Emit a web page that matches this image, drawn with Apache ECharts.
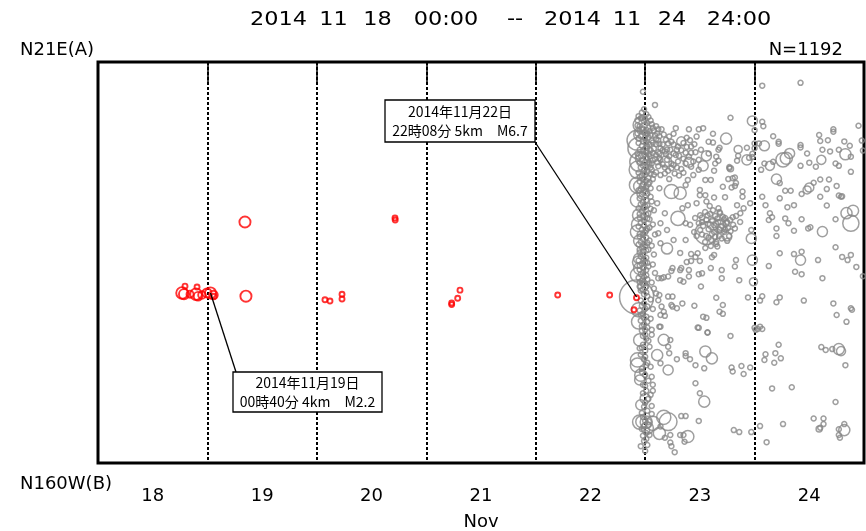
<!DOCTYPE html>
<html>
<head>
<meta charset="utf-8">
<script src="https://cdn.jsdelivr.net/npm/echarts@6/dist/echarts.min.js"></script>
<style>
html, body { margin: 0; padding: 0; background: #fff; }
#chart { width: 866px; height: 531px; }
</style>
</head>
<body>
<div id="chart"></div>
<script>
// Space-time plot along the A-B profile, 2014-11-18 00:00 to 2014-11-24 24:00.
// Each event: [time in days of November, distance from end A (0-100), magnitude]

const dayLabels = ['18', '19', '20', '21', '22', '23', '24'];
const monthLabel = 'Nov';
const titleWords = ['2014', '11', '18', '00:00', '--', '2014', '11', '24', '24:00'];
const endA = 'N21E(A)';
const endB = 'N160W(B)';
const totalCount = 1192;

// Events before the M6.7 main shock (red)
const preEvents = [
  [18.768, 57.6, 2.3], [18.786, 57.9, 2.0], [18.795, 55.9, 0.8], [18.841, 57.9, 1.4],
  [18.896, 57.9, 2.3], [18.914, 58.4, 1.7], [18.905, 56.1, 0.8], [18.950, 58.1, 1.5],
  [18.996, 57.6, 1.8], [19.028, 57.6, 2.2], [19.055, 58.1, 1.7], [19.060, 58.4, 0.8],
  [19.343, 39.9, 2.2], [19.352, 58.4, 2.2],
  [20.714, 38.9, 0.8], [20.716, 39.4, 0.8],
  [20.074, 59.3, 0.8], [20.120, 59.6, 0.8], [20.230, 57.9, 0.8], [20.230, 59.1, 0.8],
  [21.232, 60.1, 0.8], [21.232, 60.5, 0.8], [21.287, 58.9, 0.8], [21.308, 56.9, 0.8],
  [22.201, 58.1, 0.8], [22.676, 58.1, 0.8], [22.921, 58.8, 0.8], [22.898, 61.8, 0.8]
];

// The two annotated events
const mainShock = [22.922, 58.6, 6.7];
const noteShock = [19.028, 57.6, 2.2];

// Main shock and the events after it (gray)
const postEvents = [
  mainShock,
  // upper band
  [22.98, 7.4, 1.0], [23.09, 10.7, 1.0], [24.07, 5.9, 1.0], [24.42, 5.2, 1.0], [23.78, 13.9, 1.0],
  [23.98, 14.7, 2.0], [24.07, 14.9, 1.0], [24.08, 16.0, 1.0], [23.12, 16.8, 1.0], [23.28, 16.5, 1.0],
  [23.40, 16.8, 1.0], [23.49, 16.8, 1.0], [23.53, 16.5, 1.0], [23.62, 17.9, 1.0], [23.74, 19.1, 2.2],
  [23.85, 21.8, 1.6], [23.93, 21.4, 1.0], [24.00, 17.0, 1.0], [24.09, 20.9, 2.0], [24.04, 20.3, 1.0],
  [24.17, 18.5, 1.0], [24.22, 19.9, 1.0], [24.22, 20.4, 1.0], [24.32, 22.8, 2.0], [24.29, 24.0, 2.4],
  [24.26, 24.4, 2.8], [24.42, 20.7, 1.0], [24.42, 21.3, 1.0], [24.48, 22.8, 1.0], [24.59, 18.2, 1.0],
  [24.60, 19.7, 1.0], [24.67, 19.5, 1.0], [24.72, 16.8, 1.0], [24.72, 17.4, 1.0], [24.82, 19.8, 1.0],
  [24.87, 20.9, 1.0], [24.95, 15.9, 1.0], [24.98, 19.6, 1.0], [24.99, 22.1, 1.0], [24.62, 21.9, 1.0],
  [24.69, 22.3, 1.0], [24.77, 21.9, 1.0], [24.83, 23.0, 2.2], [24.88, 23.6, 1.0], [24.61, 24.4, 1.8],
  [24.50, 25.1, 1.0], [24.42, 25.9, 1.0], [24.56, 26.1, 1.0], [24.74, 25.3, 1.0], [24.77, 25.9, 1.0],
  [24.88, 27.4, 1.0], [24.20, 29.2, 2.0], [24.50, 31.3, 1.8], [24.54, 30.1, 1.0], [24.60, 29.3, 1.0],
  [24.68, 29.3, 1.0], [24.28, 32.1, 1.0], [24.33, 32.1, 1.0], [24.66, 31.7, 1.0], [24.75, 30.9, 1.0],
  [24.77, 33.3, 1.0], [24.80, 33.5, 1.0], [24.60, 33.6, 1.0], [24.23, 30.2, 1.0], [24.43, 32.9, 1.0],
  [24.07, 33.6, 1.0], [24.14, 25.9, 1.8], [24.17, 24.9, 1.0], [24.06, 26.9, 1.0], [24.09, 25.3, 1.0],
  [23.98, 22.9, 1.0], [23.98, 23.7, 1.0], [23.93, 24.4, 2.0], [23.95, 23.9, 1.0], [24.00, 21.5, 1.0],
  [24.00, 20.3, 1.0], [23.84, 24.6, 1.0], [23.85, 23.4, 1.0], [23.77, 26.5, 1.0], [23.77, 26.2, 1.0],
  [23.78, 26.6, 1.2], [23.80, 29.0, 1.0], [23.82, 28.8, 1.0], [23.76, 29.2, 1.0], [23.82, 30.9, 1.0],
  [23.79, 31.3, 1.0], [23.83, 30.2, 1.0], [23.89, 32.3, 1.0], [23.89, 33.6, 1.0], [23.71, 31.1, 1.0],
  [23.67, 24.6, 1.0], [23.65, 23.6, 1.0], [23.64, 25.3, 1.0], [23.63, 27.1, 1.0], [23.56, 23.4, 2.0],
  [23.53, 25.9, 2.0], [23.58, 22.8, 1.0], [23.51, 21.9, 1.0], [23.49, 24.4, 1.0], [23.49, 26.9, 1.0],
  [23.58, 19.9, 1.0], [23.62, 20.1, 1.0], [23.67, 21.9, 1.0], [23.68, 21.4, 1.0], [23.50, 31.9, 1.0],
  [23.50, 33.2, 1.0], [23.55, 33.2, 1.0], [23.63, 33.8, 1.0], [23.73, 33.7, 1.0], [23.55, 29.4, 1.0],
  [23.60, 29.4, 1.0], [23.24, 32.3, 2.8], [23.32, 32.7, 2.4], [23.41, 19.5, 1.0], [23.42, 21.1, 1.0],
  [23.42, 22.6, 1.0], [23.37, 22.6, 1.0], [23.35, 24.1, 1.0], [23.30, 21.1, 1.0], [23.29, 21.9, 1.0],
  [23.28, 23.2, 1.0], [23.21, 20.3, 1.0], [23.23, 21.9, 1.0], [23.20, 24.4, 1.0], [23.18, 26.3, 1.0],
  [23.24, 26.5, 1.0], [23.29, 26.3, 1.0], [23.33, 26.7, 1.0], [23.37, 25.3, 1.0], [23.13, 18.5, 1.0],
  [23.12, 19.5, 1.0], [23.14, 21.5, 1.0], [23.14, 28.2, 1.0], [23.18, 27.8, 1.0], [23.13, 31.5, 1.0],
  [23.27, 27.8, 1.0], [23.22, 29.2, 1.0], [23.39, 29.4, 1.0], [23.37, 30.7, 1.0], [23.14, 24.4, 1.0],
  [23.24, 25.3, 1.0], [23.16, 22.0, 1.0], [23.18, 22.3, 1.0], [23.20, 21.8, 1.0],
  [23.10, 16.0, 1.0], [23.15, 16.8, 1.0], [23.17, 18.1, 1.0], [23.19, 19.4, 1.0], [23.22, 18.6, 1.0],
  [23.24, 19.9, 1.0], [23.26, 20.6, 1.0], [23.16, 20.6, 1.0], [23.19, 23.0, 1.0], [23.22, 23.5, 1.0],
  [23.26, 22.8, 1.0], [23.31, 23.4, 1.0], [23.33, 22.0, 1.0], [23.35, 20.2, 1.0], [23.38, 21.2, 1.0],
  [23.40, 23.6, 1.0], [23.44, 24.8, 1.0], [23.46, 22.5, 1.0], [23.45, 20.5, 1.0], [23.30, 24.8, 1.0],
  [23.26, 25.7, 1.0], [23.21, 27.1, 1.0], [23.16, 25.5, 1.0], [23.31, 28.3, 1.0], [23.35, 27.6, 1.0],
  [23.42, 26.1, 1.0], [23.44, 28.2, 1.0], [23.47, 18.6, 1.0], [23.38, 18.9, 1.0], [23.26, 17.9, 1.0],
  [23.40, 25.0, 2.0], [23.19, 24.8, 2.2], [23.33, 19.8, 1.8],
  // dense column right after the main shock, upper part
  [22.935, 26.9, 3.5], [22.98, 32.7, 2.4], [22.94, 21.5, 4.2], [22.96, 18.0, 2.8], [22.97, 24.0, 2.6],
  [23.00, 16.5, 2.2], [22.95, 31.0, 2.4], [22.955, 15.7, 2.8], [22.925, 19.5, 3.9], [22.95, 24.9, 3.9],
  [22.93, 30.7, 3.2],
  [22.97, 12.6, 1.0], [22.99, 11.8, 1.0], [23.01, 13.0, 1.0],
  [22.93, 14.5, 1.0], [22.96, 14.0, 1.0], [22.99, 14.8, 1.0], [23.02, 15.2, 1.0], [23.05, 14.6, 1.0],
  [22.95, 16.0, 1.0], [22.98, 16.6, 1.0], [23.01, 16.9, 1.0], [23.04, 17.3, 1.0], [23.07, 16.4, 1.0],
  [22.93, 17.8, 1.0], [22.96, 18.5, 1.0], [23.00, 19.0, 1.0], [23.03, 18.8, 1.0], [23.06, 19.6, 1.0],
  [23.09, 18.3, 1.0], [22.94, 20.2, 1.0], [22.97, 20.9, 1.0], [23.00, 21.5, 1.0], [23.02, 21.0, 1.0],
  [23.05, 22.0, 1.0], [23.08, 21.6, 1.0], [23.10, 20.5, 1.0], [22.93, 22.8, 1.0], [22.96, 23.4, 1.0],
  [22.99, 23.0, 1.0], [23.02, 24.0, 1.0], [23.04, 23.5, 1.0], [23.07, 24.5, 1.0], [22.95, 25.2, 1.0],
  [22.98, 25.8, 1.0], [23.01, 26.2, 1.0], [23.04, 25.5, 1.0], [23.06, 26.9, 1.0], [22.94, 27.6, 1.0],
  [22.97, 28.3, 1.0], [23.00, 28.0, 1.0], [23.03, 29.0, 1.0], [23.05, 27.8, 1.0], [22.95, 29.8, 1.0],
  [22.98, 30.5, 1.0], [23.01, 31.2, 1.0], [23.03, 30.4, 1.0], [22.94, 32.0, 1.0], [22.97, 33.0, 1.0],
  [23.00, 32.5, 1.0], [23.12, 22.5, 1.0], [23.11, 25.0, 1.0], [23.10, 27.5, 1.0], [23.13, 24.0, 1.0],
  [22.94, 13.5, 1.0], [22.97, 13.9, 1.0], [23.00, 14.2, 1.0], [23.03, 13.7, 1.0], [23.06, 15.5, 1.0],
  [22.93, 15.8, 1.0], [22.95, 17.2, 1.0], [22.99, 17.6, 1.0], [23.02, 17.9, 1.0], [23.05, 18.2, 1.0],
  [23.08, 17.1, 1.0], [23.11, 17.8, 1.0], [22.94, 19.0, 1.0], [22.98, 19.8, 1.0], [23.01, 20.0, 1.0],
  [23.04, 20.6, 1.0], [23.07, 20.1, 1.0], [23.10, 19.2, 1.0], [23.13, 20.4, 1.0], [22.95, 21.9, 1.0],
  [22.98, 22.2, 1.0], [23.01, 22.6, 1.0], [23.04, 22.9, 1.0], [23.07, 22.7, 1.0], [23.10, 23.2, 1.0],
  [23.13, 22.9, 1.0], [22.94, 23.9, 1.0], [22.97, 24.6, 1.0], [23.00, 24.9, 1.0], [23.03, 25.0, 1.0],
  [23.06, 25.3, 1.0], [23.09, 24.2, 1.0], [23.12, 26.0, 1.0], [22.96, 26.3, 1.0], [22.99, 27.0, 1.0],
  [23.02, 27.4, 1.0], [23.05, 26.3, 1.0], [23.08, 28.1, 1.0], [22.95, 28.6, 1.0], [22.98, 29.3, 1.0],
  [23.01, 29.6, 1.0], [23.04, 30.0, 1.0], [23.07, 29.2, 1.0], [22.96, 31.6, 1.0], [22.99, 32.0, 1.0],
  [23.02, 32.8, 1.0], [23.05, 31.5, 1.0], [22.97, 31.0, 1.0],
  // dense column, middle part
  [22.94, 40.5, 2.8], [22.95, 44.6, 2.4], [22.94, 49.0, 2.0], [22.95, 51.5, 2.4], [22.94, 61.8, 2.8],
  [22.98, 56.0, 2.0], [22.93, 34.4, 2.8], [22.94, 38.2, 2.4], [22.93, 42.4, 2.8], [22.94, 49.9, 2.4],
  [22.93, 53.1, 2.8], [22.94, 64.8, 2.8], [22.95, 69.3, 2.4],
  [22.95, 34.0, 1.0], [22.98, 35.0, 1.0], [23.01, 34.5, 1.0], [22.94, 36.5, 1.0], [22.97, 37.2, 1.0],
  [23.00, 36.0, 1.0], [23.03, 37.8, 1.0], [22.95, 38.8, 1.0], [22.99, 39.6, 1.0], [23.02, 39.0, 1.0],
  [22.94, 41.0, 1.0], [22.97, 41.8, 1.0], [23.00, 42.5, 1.0], [23.04, 41.3, 1.0], [22.95, 43.5, 1.0],
  [22.98, 44.2, 1.0], [23.01, 43.8, 1.0], [22.94, 45.5, 1.0], [22.97, 46.2, 1.0], [23.00, 45.8, 1.0],
  [23.03, 46.8, 1.0], [22.95, 47.5, 1.0], [22.98, 48.2, 1.0], [23.01, 48.8, 1.0], [22.94, 49.5, 1.0],
  [22.97, 50.3, 1.0], [23.00, 49.9, 1.0], [23.03, 51.0, 1.0], [22.95, 51.8, 1.0], [22.98, 52.5, 1.0],
  [23.01, 53.2, 1.0], [22.94, 53.8, 1.0], [22.97, 54.5, 1.0], [23.00, 55.2, 1.0], [22.95, 56.0, 1.0],
  [22.98, 56.8, 1.0], [23.01, 57.5, 1.0], [22.96, 59.5, 1.0], [22.99, 60.2, 1.0], [23.02, 61.0, 1.0],
  [22.95, 62.0, 1.0], [22.98, 62.8, 1.0], [23.01, 63.5, 1.0], [22.96, 64.5, 1.0], [22.99, 65.5, 1.0],
  [23.02, 66.2, 1.0], [22.97, 67.0, 1.0], [23.00, 68.0, 1.0], [23.03, 69.5, 1.0], [22.98, 70.5, 1.0],
  [23.00, 72.0, 1.0],
  [22.96, 35.5, 1.0], [22.99, 36.4, 1.0], [23.02, 35.8, 1.0], [23.05, 36.6, 1.0], [22.95, 37.9, 1.0],
  [22.98, 38.4, 1.0], [23.01, 38.0, 1.0], [23.04, 39.2, 1.0], [22.96, 40.1, 1.0], [22.99, 40.8, 1.0],
  [23.02, 41.6, 1.0], [22.95, 42.9, 1.0], [22.98, 43.1, 1.0], [23.01, 42.0, 1.0], [23.04, 44.5, 1.0],
  [22.96, 44.9, 1.0], [22.99, 45.4, 1.0], [23.02, 45.1, 1.0], [22.95, 46.8, 1.0], [22.98, 47.2, 1.0],
  [23.01, 47.0, 1.0], [22.96, 48.5, 1.0], [22.99, 49.2, 1.0], [23.02, 50.1, 1.0], [22.95, 50.8, 1.0],
  [22.98, 51.3, 1.0], [23.01, 51.9, 1.0], [22.96, 52.9, 1.0], [22.99, 53.6, 1.0], [23.02, 54.2, 1.0],
  [22.95, 54.9, 1.0], [22.98, 55.4, 1.0], [23.01, 56.0, 1.0], [22.96, 57.0, 1.0], [22.99, 57.9, 1.0],
  [23.02, 58.4, 1.0], [22.97, 60.8, 1.0], [23.00, 61.5, 1.0], [22.96, 63.0, 1.0], [22.99, 63.9, 1.0],
  [23.02, 64.8, 1.0], [22.97, 65.9, 1.0], [23.00, 66.8, 1.0], [22.98, 68.3, 1.0], [23.01, 69.0, 1.0],
  [22.97, 71.2, 1.0],
  [23.06, 34.8, 1.0], [23.08, 37.0, 1.0], [23.07, 40.5, 1.0], [23.09, 43.0, 1.0], [23.06, 45.8, 1.0],
  [23.08, 48.0, 1.0], [23.07, 50.5, 1.0], [23.09, 52.6, 1.0], [23.06, 55.0, 1.0], [23.08, 56.5, 1.0],
  [23.05, 59.2, 1.0], [23.07, 61.6, 1.0], [23.05, 64.0, 1.0], [23.06, 68.0, 1.0],
  // dense column, lower part
  [22.93, 75.6, 2.8], [22.96, 78.1, 2.4], [23.00, 83.9, 2.0], [22.97, 89.7, 2.4], [23.03, 89.7, 1.2],
  [23.01, 89.8, 2.4], [23.07, 90.1, 2.8], [23.14, 90.9, 1.0], [23.21, 89.7, 3.5], [23.17, 88.6, 2.8],
  [23.13, 92.6, 2.4], [22.93, 74.3, 2.8], [22.95, 79.3, 2.0], [22.96, 85.5, 2.0], [22.95, 89.8, 2.8],
  [23.02, 91.3, 2.4],
  [23.00, 73.5, 1.0], [23.02, 75.0, 1.0], [22.97, 76.5, 1.0], [23.00, 78.0, 1.0], [23.03, 79.5, 1.0],
  [22.98, 80.5, 1.0], [23.01, 82.0, 1.0], [23.03, 84.0, 1.0], [22.99, 86.0, 1.0], [23.02, 87.0, 1.0],
  [22.98, 88.5, 1.0], [23.00, 89.5, 1.0], [23.03, 90.5, 1.0], [22.97, 91.5, 1.0], [23.01, 92.5, 1.0],
  [23.04, 93.0, 1.0], [22.99, 94.5, 1.0], [23.02, 95.5, 1.0], [23.00, 97.0, 1.0],
  [22.96, 73.0, 1.0], [22.99, 74.2, 1.0], [22.97, 77.3, 1.0], [23.00, 80.8, 1.0], [22.98, 82.6, 1.0],
  [23.00, 85.0, 1.0], [22.97, 87.5, 1.0], [22.99, 90.8, 1.0], [23.02, 91.9, 1.0], [22.98, 93.2, 1.0],
  [23.01, 94.0, 1.0], [22.96, 95.8, 1.0],
  [23.05, 76.0, 1.0], [23.06, 78.5, 1.0], [23.05, 83.0, 1.0], [23.06, 87.8, 1.0],
  // middle band east of the column
  [23.15, 53.9, 1.0], [23.21, 53.5, 1.0], [23.32, 54.4, 1.0], [23.35, 54.8, 1.0], [23.40, 53.5, 1.0],
  [23.51, 56.0, 1.0], [23.70, 53.9, 1.0], [23.65, 58.8, 1.0], [23.71, 60.6, 1.0], [23.68, 62.3, 1.0],
  [23.10, 57.7, 1.0], [23.13, 58.1, 1.0], [23.15, 61.0, 1.0], [23.17, 62.3, 1.0], [23.21, 58.5, 1.0],
  [23.24, 60.6, 1.0], [23.29, 61.4, 1.0], [23.34, 60.2, 1.0], [23.45, 60.8, 1.0], [23.14, 63.1, 1.0],
  [23.13, 66.0, 1.0], [23.06, 66.8, 1.0], [23.49, 66.3, 1.0], [23.57, 67.4, 1.0], [23.53, 63.5, 1.0],
  [23.56, 63.8, 1.0], [23.17, 69.3, 2.2], [23.23, 69.3, 1.0], [23.11, 73.1, 2.2], [23.21, 71.0, 1.0],
  [23.22, 72.6, 1.0], [23.21, 76.8, 2.0], [23.29, 74.1, 1.0], [23.37, 72.6, 1.0], [23.37, 73.3, 1.0],
  [23.41, 74.1, 1.0], [23.46, 75.6, 1.0], [23.55, 72.2, 2.2], [23.61, 73.9, 2.2], [23.54, 76.4, 1.0],
  [23.01, 75.6, 1.0], [23.04, 71.0, 1.0], [22.95, 71.4, 1.0], [23.14, 75.1, 1.0],
  [23.79, 76.2, 1.0], [23.80, 77.2, 1.0], [23.88, 75.8, 1.0], [23.90, 77.8, 1.0], [23.96, 76.2, 1.0],
  [24.10, 72.9, 1.0], [24.09, 74.3, 1.0], [24.19, 72.6, 1.0], [24.18, 75.0, 1.0], [24.22, 70.5, 1.0],
  [24.24, 73.9, 1.0], [24.61, 71.1, 1.0], [24.65, 71.8, 1.0], [24.71, 71.6, 1.0], [24.77, 71.6, 2.2],
  [24.79, 72.1, 1.8], [24.83, 75.6, 1.0], [23.07, 80.5, 1.0], [23.07, 82.0, 1.0], [23.06, 85.8, 1.0],
  [23.46, 80.1, 1.0], [23.50, 82.6, 1.0], [23.54, 84.7, 2.2], [24.16, 81.4, 1.0], [24.34, 81.1, 1.0],
  [24.74, 84.8, 1.0], [23.33, 88.3, 1.0], [23.37, 88.3, 1.0], [23.49, 89.5, 1.0], [23.23, 93.0, 1.0],
  [23.18, 93.7, 1.0], [23.32, 93.0, 1.0], [23.39, 93.4, 2.4], [23.36, 94.7, 1.0], [23.23, 94.9, 1.0],
  [23.24, 95.8, 1.0], [23.27, 97.3, 1.0], [23.35, 93.0, 1.0],
  [23.81, 91.8, 1.0], [23.86, 92.3, 1.0], [23.97, 92.3, 1.0], [24.05, 90.8, 1.0], [24.11, 94.8, 1.0],
  [24.26, 90.3, 1.0], [24.54, 88.9, 1.0], [24.63, 88.9, 1.0], [24.63, 90.3, 1.0], [24.59, 91.5, 1.2],
  [24.60, 91.2, 1.0], [24.82, 91.8, 2.2], [24.82, 90.3, 1.0], [24.77, 91.6, 1.0], [24.77, 93.0, 1.0],
  [24.78, 93.7, 1.0], [24.84, 64.8, 1.0], [24.01, 66.8, 1.0], [24.03, 66.6, 1.0], [24.07, 66.6, 1.0],
  [23.78, 68.3, 1.0], [23.48, 66.2, 1.0], [23.57, 67.5, 1.0], [23.14, 66.0, 1.0],
  // band at 35-55 east of the column
  [23.30, 39.0, 2.8], [23.20, 46.5, 2.2], [23.32, 47.6, 1.0], [23.82, 41.5, 1.0], [23.97, 44.0, 2.0],
  [23.97, 41.9, 1.0], [23.98, 49.4, 2.0], [23.99, 54.8, 1.6], [24.42, 49.4, 2.0], [24.62, 42.3, 2.0],
  [24.88, 40.2, 3.2], [24.84, 37.7, 2.2], [24.90, 37.1, 2.2], [24.79, 33.6, 1.0], [24.48, 31.9, 1.6],
  [24.66, 35.8, 1.0], [24.74, 39.2, 1.0], [24.36, 35.7, 1.0], [24.30, 36.2, 1.0], [24.23, 34.0, 1.0],
  [24.10, 35.7, 1.0], [24.14, 37.7, 1.0], [24.16, 38.7, 1.0], [24.13, 39.4, 1.0], [24.20, 41.5, 1.0],
  [24.20, 43.4, 1.0], [24.28, 39.0, 1.0], [24.31, 40.2, 1.0], [24.36, 42.1, 1.0], [24.43, 39.2, 1.0],
  [24.49, 41.5, 1.0], [24.51, 41.2, 1.0], [24.23, 47.7, 1.0], [24.36, 47.9, 1.0], [24.43, 47.3, 1.0],
  [24.37, 52.3, 1.0], [24.43, 52.9, 1.0], [24.58, 49.4, 1.0], [24.62, 53.9, 1.0], [24.74, 46.2, 1.0],
  [24.80, 48.6, 1.0], [24.85, 49.4, 1.0], [24.88, 48.1, 1.0], [24.93, 51.1, 1.0], [24.99, 53.4, 1.0],
  [24.13, 50.9, 1.0], [24.07, 58.4, 1.0], [24.05, 59.5, 1.0], [24.23, 58.7, 1.0], [24.20, 59.9, 1.0],
  [24.45, 59.5, 1.0], [24.72, 60.2, 1.0], [24.88, 61.4, 1.0], [24.89, 61.8, 1.0], [24.75, 63.1, 1.0],
  [23.94, 58.7, 1.0], [24.05, 66.0, 1.0], [24.00, 66.3, 1.0], [23.71, 62.8, 1.0], [23.86, 54.4, 1.0],
  [23.82, 51.0, 1.0], [23.83, 49.4, 1.0], [23.70, 51.9, 1.0], [23.60, 51.4, 1.0], [23.52, 52.7, 1.0],
  [23.49, 52.9, 1.0], [23.48, 47.7, 1.0], [23.46, 48.6, 1.0], [23.50, 49.6, 1.0], [23.42, 49.6, 1.0],
  [23.38, 49.9, 1.0], [23.33, 51.4, 1.0], [23.32, 51.9, 1.0], [23.40, 51.9, 1.0], [23.25, 51.4, 1.0],
  [23.24, 52.1, 1.0], [23.17, 53.7, 1.0], [23.12, 53.9, 1.0], [23.63, 48.1, 1.0], [23.61, 48.7, 1.0],
  [23.42, 47.9, 1.0], [23.25, 58.5, 1.0], [23.25, 61.0, 1.0], [23.12, 59.4, 1.0], [23.18, 63.3, 1.0],
  [23.05, 33.6, 1.0], [23.11, 35.2, 1.0], [23.18, 37.7, 1.0], [23.14, 40.2, 1.0], [23.20, 41.9, 1.0],
  [23.26, 44.4, 1.0], [23.12, 42.7, 1.0], [23.14, 45.2, 1.0], [23.34, 36.5, 1.0], [23.39, 35.7, 1.0],
  [23.47, 35.2, 1.0], [23.56, 34.8, 1.0], [23.59, 35.9, 1.0], [23.67, 36.5, 1.0], [23.84, 35.7, 1.0],
  [23.90, 36.5, 1.0], [23.96, 35.2, 1.0], [23.87, 37.7, 1.0], [23.37, 40.2, 1.0], [23.37, 44.4, 1.0],
  // cluster around 23.5-23.8, distance 37-46
  [23.56, 42.7, 4.5], [23.68, 41.0, 2.6], [23.62, 40.5, 2.2], [23.75, 43.5, 1.8],
  [23.503, 38.2, 1.0], [23.548, 37.4, 1.0], [23.594, 37.9, 1.0], [23.640, 38.4, 1.0], [23.685, 37.7, 1.0],
  [23.731, 38.9, 1.0], [23.777, 39.4, 1.0], [23.521, 39.9, 1.0], [23.576, 40.4, 1.0], [23.612, 39.4, 1.0],
  [23.667, 39.9, 1.0], [23.703, 40.9, 1.0], [23.758, 41.4, 1.0], [23.804, 40.6, 1.0], [23.503, 41.9, 1.0],
  [23.557, 43.4, 1.0], [23.630, 42.4, 1.0], [23.676, 43.4, 1.0], [23.722, 42.4, 1.0], [23.767, 43.4, 1.0],
  [23.548, 44.9, 1.0], [23.603, 44.4, 1.0], [23.649, 45.4, 1.0], [23.411, 40.6, 1.0], [23.457, 38.9, 1.0],
  [23.448, 42.4, 1.0], [23.831, 38.4, 1.0], [23.868, 39.9, 1.0], [23.69, 41.2, 1.2], [23.74, 40.2, 1.2],
  [23.52, 38.8, 1.0], [23.57, 38.2, 1.0], [23.62, 37.0, 1.0], [23.66, 39.0, 1.0], [23.71, 38.6, 1.0],
  [23.75, 39.9, 1.0], [23.53, 40.9, 1.0], [23.58, 41.7, 1.0], [23.63, 40.7, 1.0], [23.68, 41.8, 1.0],
  [23.73, 41.7, 1.0], [23.78, 42.2, 1.0], [23.52, 43.0, 1.0], [23.58, 43.8, 1.0], [23.64, 43.6, 1.0],
  [23.70, 44.0, 1.0], [23.75, 44.6, 1.0], [23.60, 45.9, 1.0], [23.66, 46.0, 1.0], [23.55, 46.4, 1.0],
  [23.49, 40.2, 1.0], [23.47, 43.4, 1.0], [23.80, 38.7, 1.0], [23.68, 37.4, 1.0], [23.61, 42.9, 1.0],
  [23.56, 39.4, 1.0], [23.72, 39.3, 1.0], [23.65, 44.9, 1.0]
];

// Circle diameter in px grows linearly with magnitude
function magToSize(m) {
  return Math.max(5, 5 + (m - 1) * 5.1);
}

const notes = [
  { event: mainShock, series: 0, lines: ['2014年11月22日', '22時08分 5km　M6.7'],
    box: [385, 100, 150, 42], anchor: [535, 142] },
  { event: noteShock, series: 1, lines: ['2014年11月19日', '00時40分 4km　M2.2'],
    box: [233, 372, 149, 40], anchor: [236, 372] }
];

// Title words are spaced out across the top of the frame
const titleCenters = [278.5, 333.5, 377.5, 446, 515, 572.5, 627, 672, 739];

const labelFont = 'DejaVu Sans';
const chart = echarts.init(document.getElementById('chart'), null, { renderer: 'canvas' });

const staticGraphics = titleWords.map((w, i) => ({
  type: 'text', x: titleCenters[i], y: 20, scaleX: 1.12,
  style: { text: w, fontFamily: labelFont, fontSize: 20, fill: '#000', align: 'center', verticalAlign: 'middle' }
})).concat([
  { type: 'text', x: 20, y: 50, style: { text: endA, fontFamily: labelFont, fontSize: 18, fill: '#000', align: 'left', verticalAlign: 'middle' } },
  { type: 'text', x: 843, y: 50, style: { text: 'N=' + totalCount, fontFamily: labelFont, fontSize: 18, fill: '#000', align: 'right', verticalAlign: 'middle' } },
  { type: 'text', x: 20, y: 484, style: { text: endB, fontFamily: labelFont, fontSize: 18, fill: '#000', align: 'left', verticalAlign: 'middle' } }
]);

chart.setOption({
  animation: false,
  backgroundColor: '#fff',
  grid: {
    left: 98, right: 2, top: 62, bottom: 68, show: true, borderColor: '#000', borderWidth: 3,
    outerBoundsMode: 'none', containLabel: false
  },
  xAxis: [
    {
      type: 'value', min: 18, max: 25, interval: 1, position: 'bottom',
      axisLine: { show: false },
      axisTick: { show: true, inside: false, length: 21, lineStyle: { color: '#000', width: 1.5 } },
      axisLabel: { show: false },
      splitLine: { show: true, lineStyle: { color: '#000', width: 2, type: [3, 2] } }
    },
    {
      type: 'category', data: dayLabels, position: 'bottom', boundaryGap: true,
      axisLine: { show: false }, axisTick: { show: false }, splitLine: { show: false },
      axisLabel: { color: '#000', fontSize: 18, fontFamily: labelFont, margin: 24 },
      name: monthLabel, nameLocation: 'middle', nameGap: 50,
      nameTextStyle: { color: '#000', fontSize: 18, fontFamily: labelFont }
    }
  ],
  yAxis: { type: 'value', min: 0, max: 100, inverse: true, show: false },
  series: [
    {
      type: 'scatter', xAxisIndex: 0, yAxisIndex: 0, data: postEvents, silent: true,
      symbol: 'circle', symbolSize: v => magToSize(v[2]),
      itemStyle: { color: 'rgba(0,0,0,0)', borderColor: '#878787', borderWidth: 1.5 }
    },
    {
      type: 'scatter', xAxisIndex: 0, yAxisIndex: 0, data: preEvents, silent: true,
      symbol: 'circle', symbolSize: v => magToSize(v[2]),
      itemStyle: { color: 'rgba(0,0,0,0)', borderColor: '#ff0000', borderWidth: 1.9 }
    }
  ],
  graphic: staticGraphics
});

// Callout boxes with leader lines pointing at the annotated events
const noteGraphics = [];
notes.forEach(n => {
  const p = chart.convertToPixel({ seriesIndex: n.series }, [n.event[0], n.event[1]]);
  noteGraphics.push({
    type: 'line', z: 99,
    shape: { x1: n.anchor[0], y1: n.anchor[1], x2: p[0], y2: p[1] },
    style: { stroke: '#000', lineWidth: 1.3 }
  });
  noteGraphics.push({
    type: 'rect', z: 100,
    shape: { x: n.box[0], y: n.box[1], width: n.box[2], height: n.box[3] },
    style: { fill: '#fff', stroke: '#000', lineWidth: 1.3 }
  });
  noteGraphics.push({
    type: 'text', z: 101,
    x: n.box[0] + n.box[2] / 2, y: n.box[1] + n.box[3] / 2,
    style: {
      text: n.lines.join('\n'), fontFamily: '"Noto Sans CJK JP"', fontSize: 14, lineHeight: 19,
      fill: '#000', align: 'center', verticalAlign: 'middle'
    }
  });
});
chart.setOption({ graphic: staticGraphics.concat(noteGraphics) });
</script>
</body>
</html>
